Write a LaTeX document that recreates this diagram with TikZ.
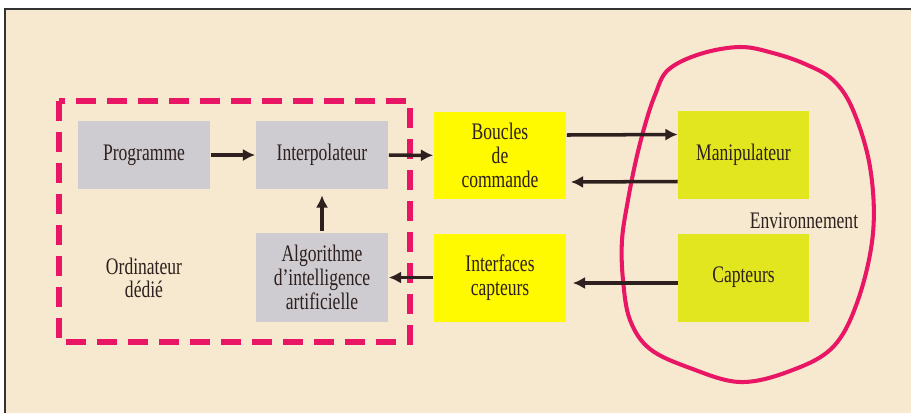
\documentclass[tikz,border=0pt]{standalone}
\usepackage{fontspec}
\setmainfont[FakeStretch=0.74]{Liberation Serif}
\usepackage{xcolor}
\definecolor{fond}{RGB}{246,233,207}
\definecolor{gris}{RGB}{206,204,208}
\definecolor{jaune}{RGB}{255,250,0}
\definecolor{jaunevert}{RGB}{226,230,30}
\definecolor{rose}{RGB}{232,22,100}
\definecolor{encre}{RGB}{45,32,30}
\usetikzlibrary{arrows.meta,positioning}

\begin{document}
\begin{tikzpicture}[x=0.02cm,y=-0.02cm,
  every node/.style={text=encre,font=\fontsize{13.5}{13.5}\selectfont,align=center,inner sep=0pt},
  boite/.style={minimum width=2.66cm,minimum height=1.36cm},
  grisbox/.style={boite,fill=gris},
  jaunebox/.style={boite,fill=jaune,minimum height=1.76cm},
  vertbox/.style={boite,fill=jaunevert,minimum width=2.62cm,minimum height=1.76cm},
  fleche/.style={-{Latex[length=7pt,width=7pt]},line width=2pt,encre}]
  % fond et cadre
  \useasboundingbox (0,0) rectangle (911,413);
  \fill[white] (0,0) rectangle (911,413);
  \fill[fond] (5,9) rectangle (911,413);
  \draw[black!80,line width=1.2pt] (5,413) -- (5,9) -- (911,9);
  % ordinateur
  \node[grisbox] (prog) at (144,155) {Programme};
  \node[grisbox] (interp) at (322,155) {Interpolateur};
  \node[grisbox,minimum height=1.78cm] (algo) at (322,277.5) {Algorithme\\d'intelligence\\artificielle};
  \node (ordi) at (144,278) {Ordinateur\\dédié};
  \draw[rose,line width=3.4pt,dash pattern=on 0.4cm off 0.22cm] (59,101) rectangle (410,342);
  % commande
  \node[jaunebox] (boucles) at (500,155.5) {Boucles\\de\\commande};
  \node[jaunebox] (interf) at (500,277.5) {Interfaces\\capteurs};
  % environnement
  \node[vertbox] (manip) at (743.5,155) {Manipulateur};
  \node[vertbox] (capt) at (743.5,277.5) {Capteurs};
  \node (env) at (804,221) {Environnement};
  \draw[rose,line width=2.3pt] plot[smooth cycle,tension=0.6] coordinates {
    (740,47) (700,54) (668,70) (655,95) (645,125) (636,160) (628,200)
    (622,240) (623,280) (630,320) (650,349) (690,368) (740,382) (790,371)
    (833,347) (858,300) (873,233) (870,167) (853,110) (833,80) (805,64) (773,53)};
  % liaisons
  \draw[fleche] (prog) -- (interp);
  \draw[fleche,shorten <=1pt] (algo) -- ([yshift=-0.12cm]interp.south);
  \draw[fleche] (interp) -- (boucles);
  \draw[fleche] (interf) -- (algo);
  \draw[fleche] ([yshift=0.41cm]boucles.east) -- ([yshift=0.41cm]manip.west);
  \draw[fleche] ([yshift=-0.53cm]manip.west) -- ([yshift=-0.53cm,xshift=0.08cm]boucles.east);
  \draw[fleche] ([yshift=-0.11cm]capt.west) -- ([yshift=-0.11cm,xshift=0.12cm]interf.east);
\end{tikzpicture}
\end{document}
